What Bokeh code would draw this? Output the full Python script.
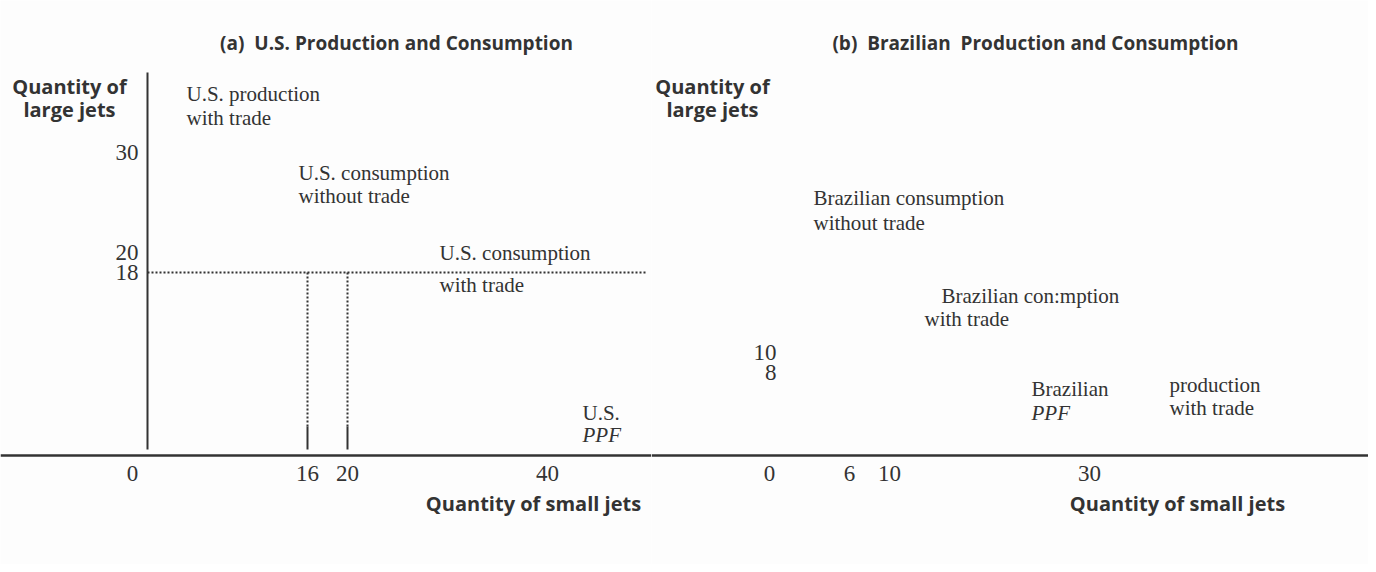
from bokeh.plotting import figure
from bokeh.layouts import row
from bokeh.models import Range1d, Span
from bokeh.core.properties import value
from bokeh.embed import file_html
from bokeh.resources import INLINE

# ---------------- data ----------------
NB = "\u00a0"
panel_titles = ["(a)" + NB * 2 + "U.S. Production and Consumption",
                "(b)" + NB * 2 + "Brazilian" + NB * 2 + "Production and Consumption"]
y_axis_title = ["Quantity of", "large jets"]
x_axis_title = "Quantity of small jets"

us_x_ticks = [0, 16, 20, 40]
us_y_ticks = [30, 20, 18]
br_x_ticks = [0, 6, 10, 30]
br_y_ticks = [10, 8]

us_trade_large = 18          # dotted horizontal guide level
us_trade_small = [16, 20]    # dotted vertical guides
us_guide_end = 50            # horizontal guide reaches this small-jet value
us_axis_top = 38

us_labels = ["U.S. production", "with trade",
             "U.S. consumption", "without trade",
             "U.S. consumption", "with trade",
             "U.S."]
us_label_x = [3.9, 3.9, 15.1, 15.1, 29.2, 29.2, 43.5]
us_label_y = [35.9, 33.5, 28.0, 25.7, 20.0, 16.8, 4.0]
us_ppf = ("PPF", 43.5, 1.8)

br_labels = ["Brazilian consumption", "without trade",
             "Brazilian con:mption", "with trade",
             "Brazilian",
             "production", "with trade"]
br_label_x = [2.4, 2.4, 15.2, 13.5, 24.2, 38.0, 38.0]
br_label_y = [25.5, 23.0, 15.7, 13.4, 6.4, 6.8, 4.5]
br_ppf = ("PPF", 24.2, 4.0)

# ---------------- styles ----------------
INK = "#333333"
BG = "#fdfdfd"
SERIF = value("Liberation Serif")
SANS = value("Open Sans")
H = 564
TICK_Y = -2.1
TITLE_Y = 41.0
XTITLE_Y = -5.1
YTITLE_Y = [36.6, 34.3]
PX = 10.0  # pixels per unit


def make_fig(width, x0):
    p = figure(width=width, height=H, x_range=Range1d(x0, x0 + width / PX),
               y_range=Range1d(-11.2, -11.2 + H / PX),
               output_backend="svg", toolbar_location=None,
               min_border=0, min_border_left=0, min_border_right=0,
               min_border_top=0, min_border_bottom=0)
    p.axis.visible = False
    p.grid.visible = False
    p.outline_line_color = None
    p.background_fill_color = BG
    p.border_fill_color = BG
    p.add_layout(Span(location=-0.3, dimension="width",
                      line_color=INK, line_width=2.5))
    return p


def common(p, title, xt, yt, labels, lx, ly, ppf, x0_off, y_off, title_x, ytitle_x, xtitle_x):
    p.text(x=[title_x], y=[TITLE_Y], text=[title], text_font=SANS,
           text_font_style="bold", text_font_size="19px", text_color=INK,
           text_align="center", text_baseline="middle")
    p.text(x=[ytitle_x] * 2, y=YTITLE_Y, text=y_axis_title, text_font=SANS,
           text_font_style="bold", text_font_size="20px", text_color=INK,
           text_align="center", text_baseline="middle")
    p.text(x=[xtitle_x], y=[XTITLE_Y], text=[x_axis_title], text_font=SANS,
           text_font_style="bold", text_font_size="20px", text_color=INK,
           text_align="center", text_baseline="middle")
    # x tick labels
    p.text(x=xt[1:], y=[TICK_Y] * (len(xt) - 1), text=[str(v) for v in xt[1:]],
           text_font=SERIF, text_font_size="23px", text_color=INK,
           text_align="center", text_baseline="middle")
    p.text(x=xt[:1], y=[TICK_Y], text=[str(xt[0])], x_offset=x0_off,
           text_font=SERIF, text_font_size="23px", text_color=INK,
           text_align="center", text_baseline="middle")
    # y tick labels
    p.text(x=[0] * len(yt), y=yt, text=[str(v) for v in yt], x_offset=y_off,
           text_font=SERIF, text_font_size="23px", text_color=INK,
           text_align="right", text_baseline="middle")
    # annotations
    p.text(x=lx, y=ly, text=labels, text_font=SERIF, text_font_size="21px",
           text_color=INK, text_align="left", text_baseline="middle")
    p.text(x=[ppf[1]], y=[ppf[2]], text=[ppf[0]], text_font=SERIF,
           text_font_style="italic", text_font_size="21px", text_color=INK,
           text_align="left", text_baseline="middle")


# ---------------- panel (a) ----------------
pa = make_fig(651, -14.7)
pa.segment(x0=[0], y0=[0.3], x1=[0], y1=[us_axis_top], line_color=INK, line_width=2)
pa.segment(x0=[0], y0=[us_trade_large], x1=[us_guide_end], y1=[us_trade_large],
           line_color=INK, line_width=2, line_dash="2 2")
pa.segment(x0=us_trade_small, y0=[us_trade_large] * 2, x1=us_trade_small,
           y1=[2.6] * 2, line_color=INK, line_width=2, line_dash="2 2")
pa.segment(x0=us_trade_small, y0=[2.6] * 2, x1=us_trade_small, y1=[0.3] * 2,
           line_color=INK, line_width=2)
common(pa, panel_titles[0], us_x_ticks, us_y_ticks, us_labels, us_label_x,
       us_label_y, us_ppf, -15, -9, 24.9, -7.8, 38.6)

# ---------------- panel (b) ----------------
pb = make_fig(717, -13.8)
common(pb, panel_titles[1], br_x_ticks, br_y_ticks, br_labels, br_label_x,
       br_label_y, br_ppf, -20, -13, 24.6, -7.7, 38.8)

layout = row(pa, pb, spacing=0)
open("out.html", "w").write(file_html(layout, INLINE))
